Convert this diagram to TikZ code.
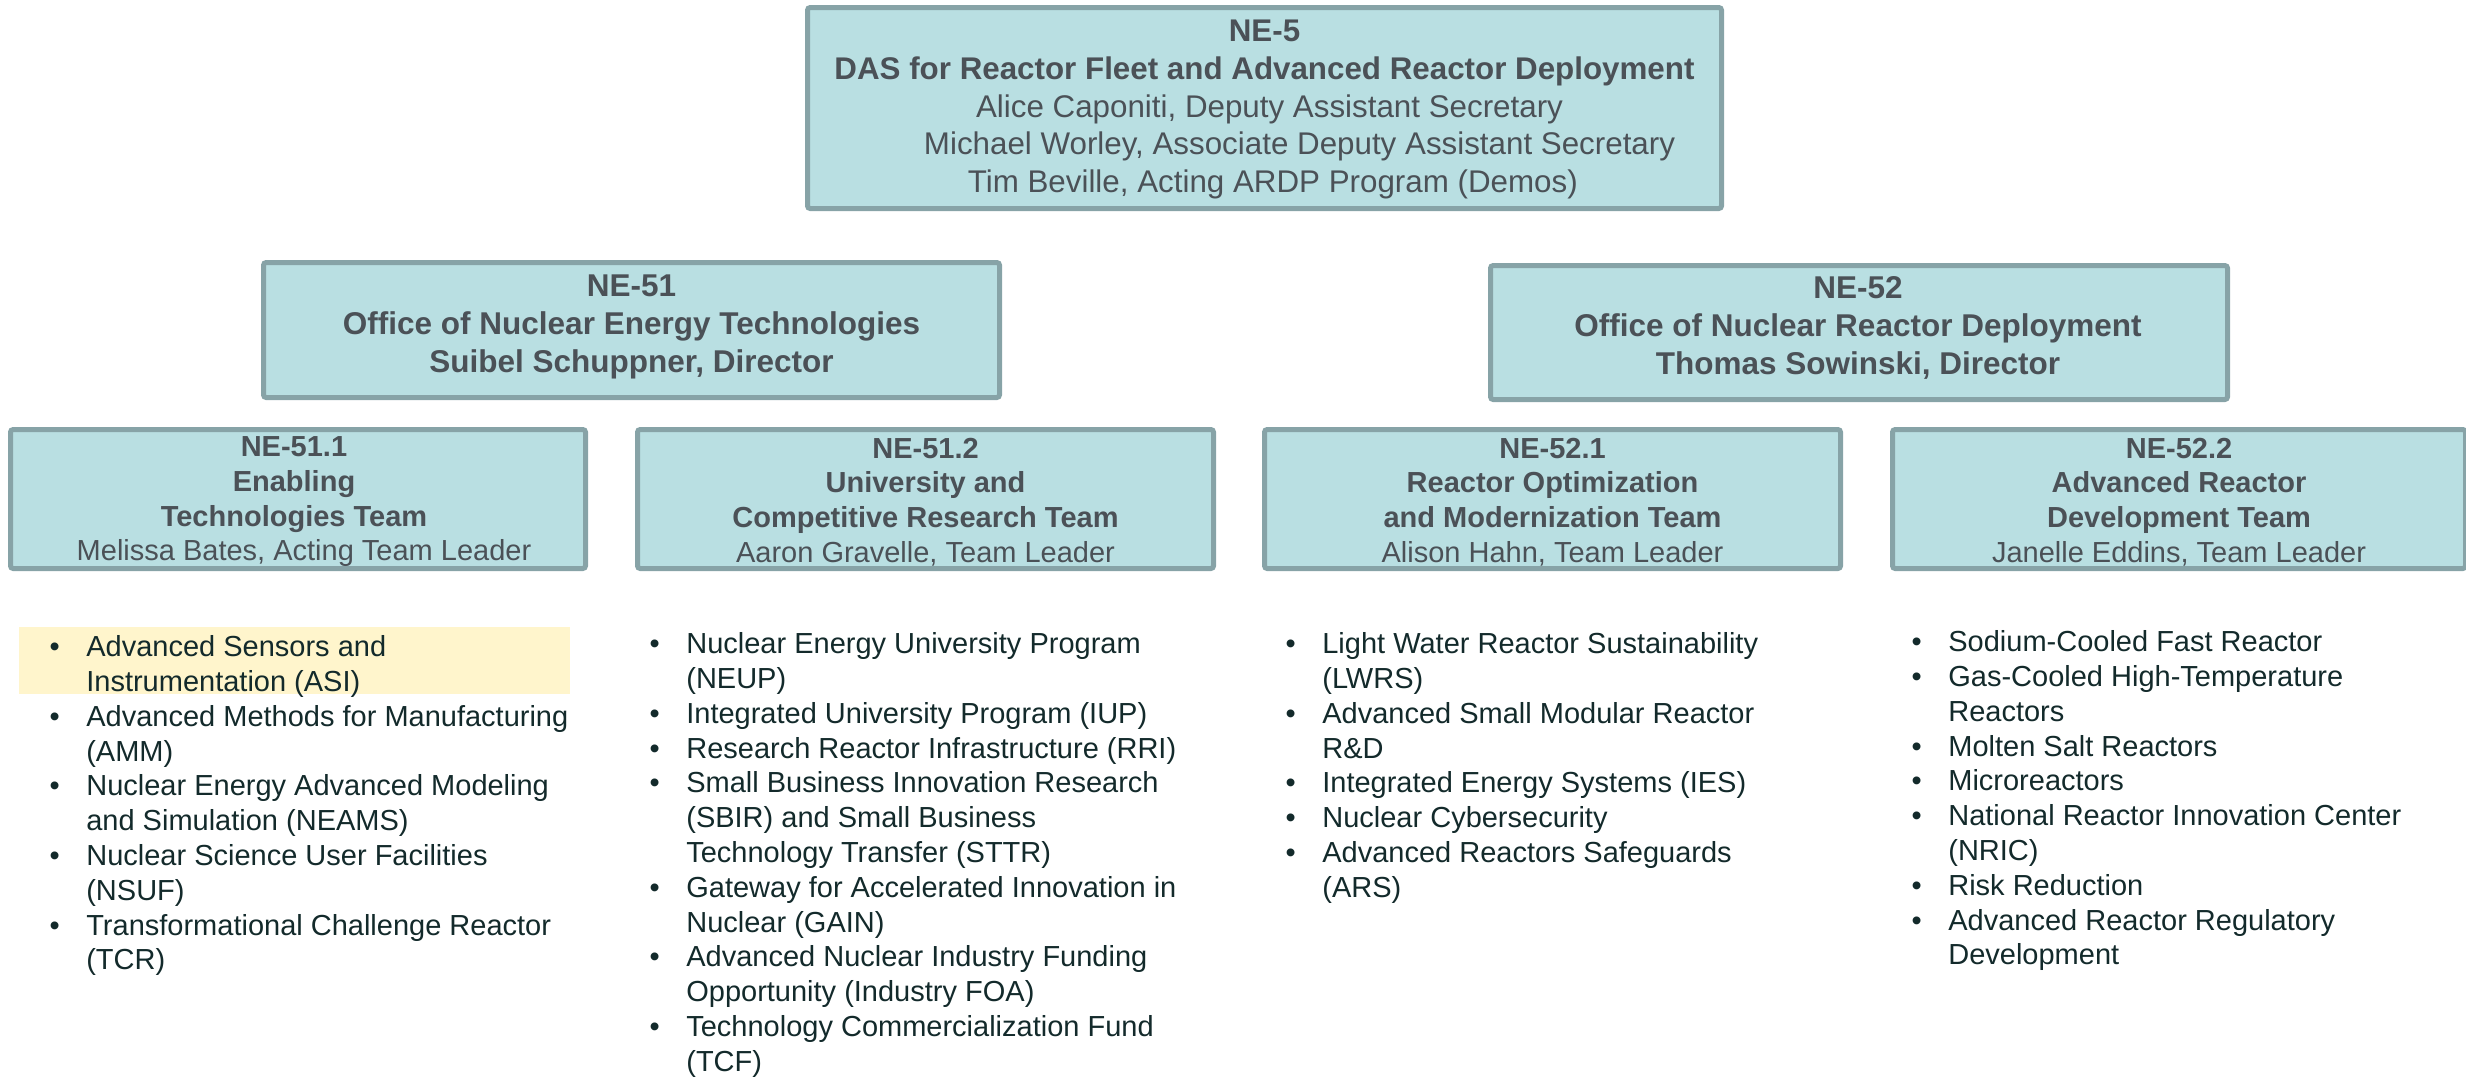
\documentclass[tikz,border=0pt]{standalone}
\usepackage{fontspec}
\setmainfont{Liberation Sans}
\definecolor{boxfill}{HTML}{B9DFE2}
\definecolor{boxline}{HTML}{87A3A7}
\definecolor{boxtext}{HTML}{4B5157}
\definecolor{listtext}{HTML}{132A2B}
\definecolor{hilite}{HTML}{FFF5CC}
\newcommand\bul{\makebox[11pt][l]{•}}
\newcommand\ind{\hspace*{11pt}}
\begin{document}
\begin{tikzpicture}[x=0.3pt,y=-0.3pt,
 orgbox/.style={draw=boxline, fill=boxfill, line width=1.5pt, rounded corners=0.8pt, inner sep=0pt},
 boxlabel/.style={text=boxtext, align=center, inner sep=0pt},
 toplabel/.style={boxlabel, font=\fontsize{9.4}{11.3}\selectfont},
 midlabel/.style={boxlabel, font=\fontsize{9.45}{11.3}\selectfont\bfseries},
 teamlabel/.style={boxlabel, font=\fontsize{8.7}{10.4}\selectfont},
 itemlist/.style={text=listtext, align=left, inner sep=0pt, anchor=north west, font=\fontsize{8.7}{10.44}\selectfont}]
\useasboundingbox (0,0) rectangle (2466,1077);

% boxes
\node[orgbox, minimum width=274.2pt, minimum height=60.3pt] (ne5) at (1264.5,108) {};
\node[orgbox, minimum width=220.8pt, minimum height=40.5pt] (ne51) at (631.5,330) {};
\node[orgbox, minimum width=221.1pt, minimum height=40.2pt] (ne52) at (1859,332.5) {};
\node[orgbox, minimum width=172.5pt, minimum height=41.7pt] (ne511) at (298,499) {};
\node[orgbox, minimum width=172.8pt, minimum height=41.7pt] (ne512) at (925.5,499) {};
\node[orgbox, minimum width=172.8pt, minimum height=41.7pt] (ne521) at (1552.5,499) {};
\node[orgbox, minimum width=171.9pt, minimum height=41.7pt] (ne522) at (2179,499) {};

% box texts
\node[toplabel] (ne5t) at (1264.5,109.5) {\textbf{NE-5}\\\textbf{DAS for Reactor Fleet and Advanced Reactor Deployment}\\\hspace*{3pt}Alice Caponiti, Deputy Assistant Secretary\\\hspace*{21pt}Michael Worley, Associate Deputy Assistant Secretary\\\hspace*{5pt}Tim Beville, Acting ARDP Program (Demos)};
\node[midlabel] (ne51t) at (631.5,327) {NE-51\\Office of Nuclear Energy Technologies\\Suibel Schuppner, Director};
\node[midlabel] (ne52t) at (1858,328) {NE-52\\Office of Nuclear Reactor Deployment\\Thomas Sowinski, Director};
\node[teamlabel] (ne511t) at (294,502) {\textbf{NE-51.1}\\\textbf{Enabling}\\\textbf{Technologies Team}\\\hspace*{6pt}Melissa Bates, Acting Team Leader};
\node[teamlabel] (ne512t) at (925.5,502) {\textbf{NE-51.2}\\\textbf{University and}\\\textbf{Competitive Research Team}\\Aaron Gravelle, Team Leader};
\node[teamlabel] (ne521t) at (1552.5,502) {\textbf{NE-52.1}\\\textbf{Reactor Optimization}\\\textbf{and Modernization Team}\\Alison Hahn, Team Leader};
\node[teamlabel] (ne522t) at (2179,502) {\textbf{NE-52.2}\\\textbf{Advanced Reactor}\\\textbf{Development Team}\\Janelle Eddins, Team Leader};

% highlight
\fill[hilite] (19,627) rectangle (570,694);

% lists
\node[itemlist] (l1) at (49,635) {\bul Advanced Sensors and\\\ind Instrumentation (ASI)\\\bul Advanced Methods for Manufacturing\\\ind (AMM)\\\bul Nuclear Energy Advanced Modeling\\\ind and Simulation (NEAMS)\\\bul Nuclear Science User Facilities\\\ind (NSUF)\\\bul Transformational Challenge Reactor\\\ind (TCR)};
\node[itemlist] (l2) at (649,632) {\bul Nuclear Energy University Program\\\ind (NEUP)\\\bul Integrated University Program (IUP)\\\bul Research Reactor Infrastructure (RRI)\\\bul Small Business Innovation Research\\\ind (SBIR) and Small Business\\\ind Technology Transfer (STTR)\\\bul Gateway for Accelerated Innovation in\\\ind Nuclear (GAIN)\\\bul Advanced Nuclear Industry Funding\\\ind Opportunity (Industry FOA)\\\bul Technology Commercialization Fund\\\ind (TCF)};
\node[itemlist] (l3) at (1285,632) {\bul Light Water Reactor Sustainability\\\ind (LWRS)\\\bul Advanced Small Modular Reactor\\\ind R\&D\\\bul Integrated Energy Systems (IES)\\\bul Nuclear Cybersecurity\\\bul Advanced Reactors Safeguards\\\ind (ARS)};
\node[itemlist] (l4) at (1911,630) {\bul Sodium-Cooled Fast Reactor\\\bul Gas-Cooled High-Temperature\\\ind Reactors\\\bul Molten Salt Reactors\\\bul Microreactors\\\bul National Reactor Innovation Center\\\ind (NRIC)\\\bul Risk Reduction\\\bul Advanced Reactor Regulatory\\\ind Development};
\end{tikzpicture}
\end{document}
